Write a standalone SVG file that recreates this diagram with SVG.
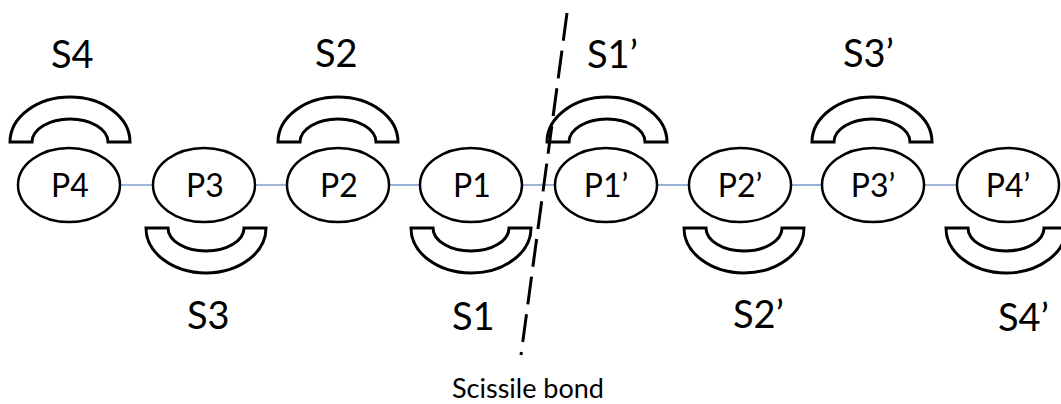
<svg xmlns="http://www.w3.org/2000/svg" width="1061" height="404" viewBox="0 0 1061 404">
<style>
.bg{fill:#ffffff}
.ell{fill:#ffffff;stroke:#000000;stroke-width:2.5}
.site{fill:#ffffff;stroke:#000000;stroke-width:3;stroke-linejoin:miter}
.conn{stroke:#7f9ecd;stroke-width:1.6;fill:none}
.plab{font-family:Lato,"Open Sans",sans-serif;font-size:32px;fill:#000000;text-anchor:middle}
.slab{font-family:Lato,"Open Sans",sans-serif;font-size:38px;fill:#000000}
.cap{font-family:Lato,"Open Sans",sans-serif;font-size:27px;fill:#000000}
.cut{stroke:#000000;stroke-width:3;stroke-dasharray:28 10;fill:none}
</style>
<rect class="bg" x="0" y="0" width="1061" height="404"/>
<g id="connectors">
<line class="conn" x1="120" y1="185" x2="153" y2="185"/>
<line class="conn" x1="255" y1="185" x2="288" y2="185"/>
<line class="conn" x1="389" y1="185" x2="421" y2="185"/>
<line class="conn" x1="522" y1="185" x2="555" y2="185"/>
<line class="conn" x1="657" y1="185" x2="689" y2="185"/>
<line class="conn" x1="791" y1="185" x2="822" y2="185"/>
<line class="conn" x1="924" y1="185" x2="957" y2="185"/>
</g>
<g id="S4"><path class="site" d="M10,142 A60,45 0 0 1 130,142 L108,142 A38,23 0 0 0 32,142 Z"/><text class="slab" x="51" y="68">S4</text></g>
<g id="S2"><path class="site" d="M278,142 A60,45 0 0 1 398,142 L376,142 A38,23 0 0 0 300,142 Z"/><text class="slab" x="315" y="67">S2</text></g>
<g id="S1p"><path class="site" d="M547,142 A60,45 0 0 1 667,142 L645,142 A38,23 0 0 0 569,142 Z"/><text class="slab" x="587" y="68">S1’</text></g>
<g id="S3p"><path class="site" d="M812,142 A60,45 0 0 1 932,142 L910,142 A38,23 0 0 0 834,142 Z"/><text class="slab" x="843" y="67">S3’</text></g>
<g id="S3"><path class="site" d="M146,228 A60,45 0 0 0 266,228 L244,228 A38,23 0 0 1 168,228 Z"/><text class="slab" x="187" y="329">S3</text></g>
<g id="S1"><path class="site" d="M411,228 A60,45 0 0 0 531,228 L509,228 A38,23 0 0 1 433,228 Z"/><text class="slab" x="452" y="330">S1</text></g>
<g id="S2p"><path class="site" d="M684,228 A60,45 0 0 0 804,228 L782,228 A38,23 0 0 1 706,228 Z"/><text class="slab" x="733" y="328">S2’</text></g>
<g id="S4p"><path class="site" d="M946,228 A60,45 0 0 0 1066,228 L1044,228 A38,23 0 0 1 968,228 Z"/><text class="slab" x="998" y="331">S4’</text></g>
<g id="P4"><ellipse class="ell" cx="69" cy="185" rx="51" ry="37"/><text class="plab" x="70" y="197">P4</text></g>
<g id="P3"><ellipse class="ell" cx="204" cy="185" rx="51" ry="37"/><text class="plab" x="205" y="197">P3</text></g>
<g id="P2"><ellipse class="ell" cx="338" cy="185" rx="51" ry="37"/><text class="plab" x="339" y="197">P2</text></g>
<g id="P1"><ellipse class="ell" cx="471" cy="185" rx="51" ry="37"/><text class="plab" x="472" y="197">P1</text></g>
<g id="P1p"><ellipse class="ell" cx="606" cy="185" rx="51" ry="37"/><text class="plab" x="606" y="197">P1’</text></g>
<g id="P2p"><ellipse class="ell" cx="740" cy="185" rx="51" ry="37"/><text class="plab" x="740" y="197">P2’</text></g>
<g id="P3p"><ellipse class="ell" cx="873" cy="185" rx="51" ry="37"/><text class="plab" x="873" y="197">P3’</text></g>
<g id="P4p"><ellipse class="ell" cx="1008" cy="185" rx="51" ry="37"/><text class="plab" x="1008" y="197">P4’</text></g>
<g id="scissile"><line class="cut" x1="567" y1="13" x2="521" y2="355"/><text class="cap" x="452" y="398">Scissile bond</text></g>
</svg>
